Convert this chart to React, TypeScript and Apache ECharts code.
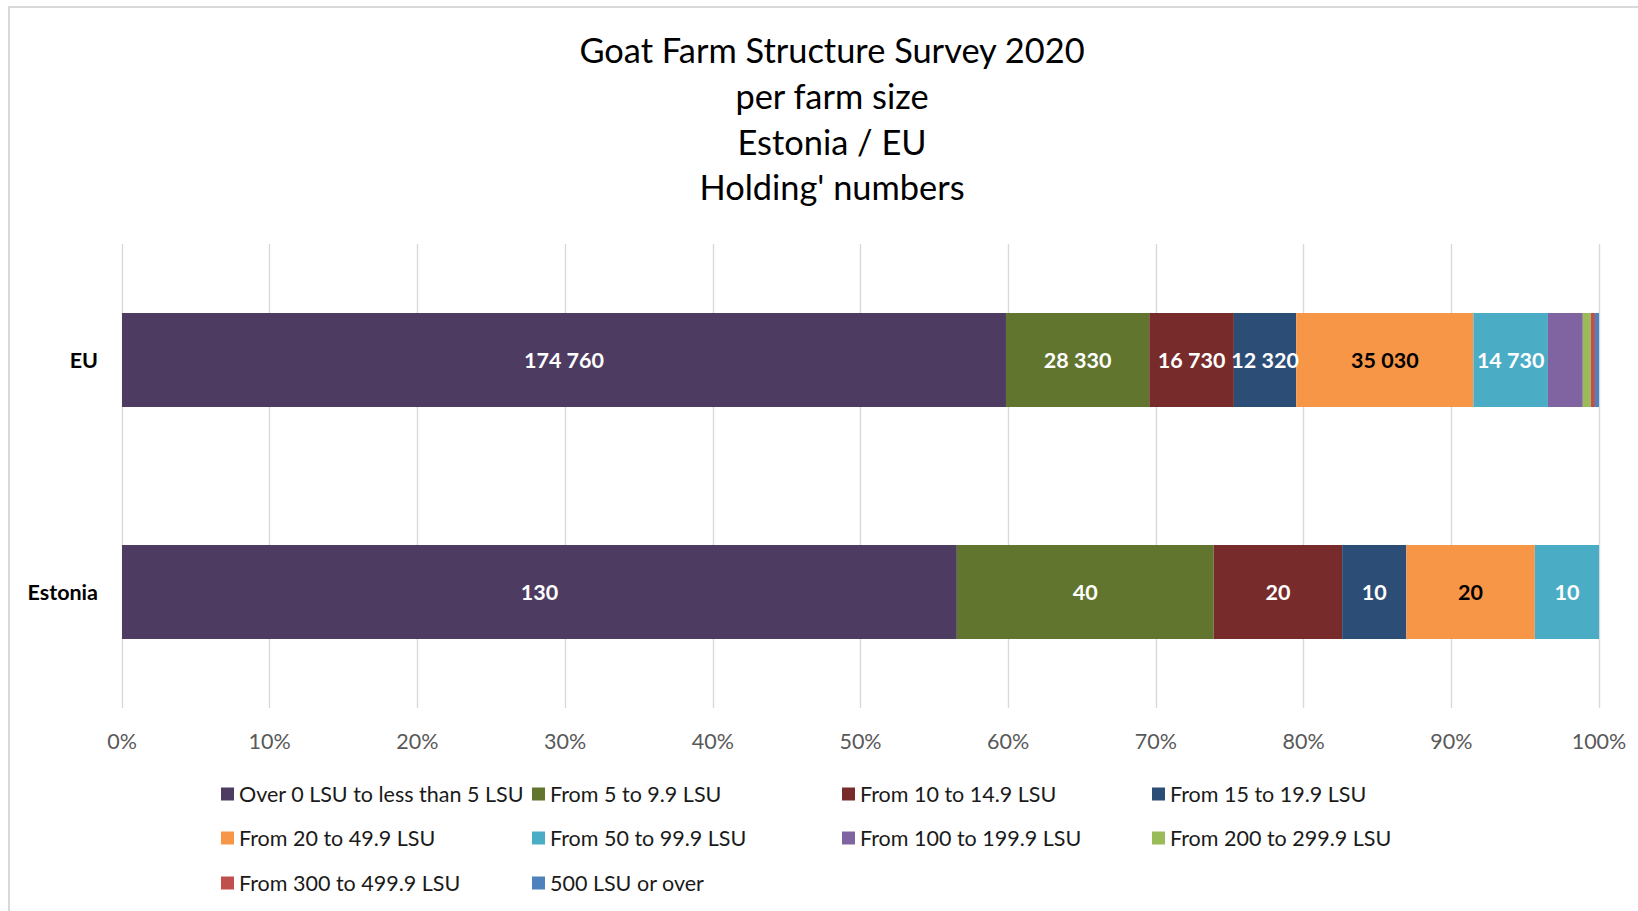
import React, { useEffect, useRef } from "react";
import * as echarts from "echarts";

const categories = ["Estonia", "EU"];
const seriesNames = [
  "Over 0 LSU to less than 5 LSU",
  "From 5 to 9.9 LSU",
  "From 10 to 14.9 LSU",
  "From 15 to 19.9 LSU",
  "From 20 to 49.9 LSU",
  "From 50 to 99.9 LSU",
  "From 100 to 199.9 LSU",
  "From 200 to 299.9 LSU",
  "From 300 to 499.9 LSU",
  "500 LSU or over",
];
const estoniaValues = [130, 40, 20, 10, 20, 10, 0, 0, 0, 0];
const euValues = [174760, 28330, 16730, 12320, 35030, 14730, 6900, 1600, 800, 800];
const seriesColors = [
  "#4E3B61",
  "#61752F",
  "#772C2B",
  "#2C4D75",
  "#F79646",
  "#4BACC6",
  "#8064A2",
  "#9BBB59",
  "#C0504D",
  "#4F81BD",
];
const labelColors = ["#fff", "#fff", "#fff", "#fff", "#000", "#fff"];
const xTicks = [0, 10, 20, 30, 40, 50, 60, 70, 80, 90, 100];
const legendRowTops = [783, 827, 872];
const legendColLefts = [221, 532, 842, 1152];

const FONT = "Lato";

function fmt(v: number): string {
  return String(v).replace(/\B(?=(\d{3})+(?!\d))/g, " ");
}

export default function App() {
  const ref = useRef<HTMLDivElement>(null);

  useEffect(() => {
    document.body.style.margin = "0";
    if (!ref.current) return;
    const chart = echarts.init(ref.current, undefined, { renderer: "svg" });
    const totals = [
      estoniaValues.reduce((a, b) => a + b, 0),
      euValues.reduce((a, b) => a + b, 0),
    ];
    const rows = [estoniaValues, euValues];

    const series = seriesNames.map((name, i) => ({
      name,
      type: "bar",
      stack: "total",
      barWidth: 94,
      itemStyle: { color: seriesColors[i] },
      label: {
        show: i < 6,
        position: "inside",
        color: labelColors[i] || "#fff",
        fontFamily: FONT,
        fontWeight: "bold",
        fontSize: 21.5,
        formatter: (p: any) => (p.data.raw ? fmt(p.data.raw) : ""),
      },
      emphasis: { disabled: true },
      data: rows.map((r, k) => ({
        value: (r[i] / totals[k]) * 100,
        raw: r[i],
      })),
    }));

    const legends = seriesNames.map((name, i) => ({
      data: [name],
      selectedMode: false,
      icon: "rect",
      itemWidth: 13,
      itemHeight: 13,
      itemGap: 0,
      left: legendColLefts[i % 4],
      top: legendRowTops[Math.floor(i / 4)],
      padding: 0,
      textStyle: {
        fontFamily: FONT,
        fontSize: 21.5,
        color: "#1a1a1a",
      },
    }));

    chart.setOption({
      animation: false,
      backgroundColor: "#fff",
      textStyle: { fontFamily: FONT },
      title: {
        text: "Goat Farm Structure Survey 2020\nper farm size\nEstonia / EU\nHolding' numbers",
        left: 832,
        top: 27,
        textAlign: "center",
        padding: 0,
        textStyle: {
          fontFamily: FONT,
          fontSize: 34.4,
          fontWeight: "normal",
          color: "#000",
          lineHeight: 45.6,
        },
      },
      graphic: [
        {
          type: "rect",
          z: -10,
          silent: true,
          shape: { x: 9, y: 7, width: 1700, height: 1000 },
          style: { fill: "none", stroke: "#d9d9d9", lineWidth: 2 },
        },
      ],
      legend: legends,
      grid: { left: 122, right: 39, top: 244, height: 464, containLabel: false },
      xAxis: {
        type: "value",
        min: xTicks[0],
        max: xTicks[xTicks.length - 1],
        interval: 10,
        axisLine: { show: false },
        axisTick: { show: false },
        axisLabel: {
          formatter: "{value}%",
          color: "#595959",
          fontFamily: FONT,
          fontSize: 21.5,
          margin: 22,
        },
        splitLine: { show: true, lineStyle: { color: "#d9d9d9", width: 1.4 } },
      },
      yAxis: {
        type: "category",
        data: categories,
        axisLine: { show: false },
        axisTick: { show: false },
        axisLabel: {
          color: "#000",
          fontFamily: FONT,
          fontWeight: "bold",
          fontSize: 21.5,
          margin: 24,
        },
        splitLine: { show: false },
      },
      series,
    });

    return () => chart.dispose();
  }, []);

  return <div ref={ref} style={{ width: 1638, height: 911 }} />;
}
